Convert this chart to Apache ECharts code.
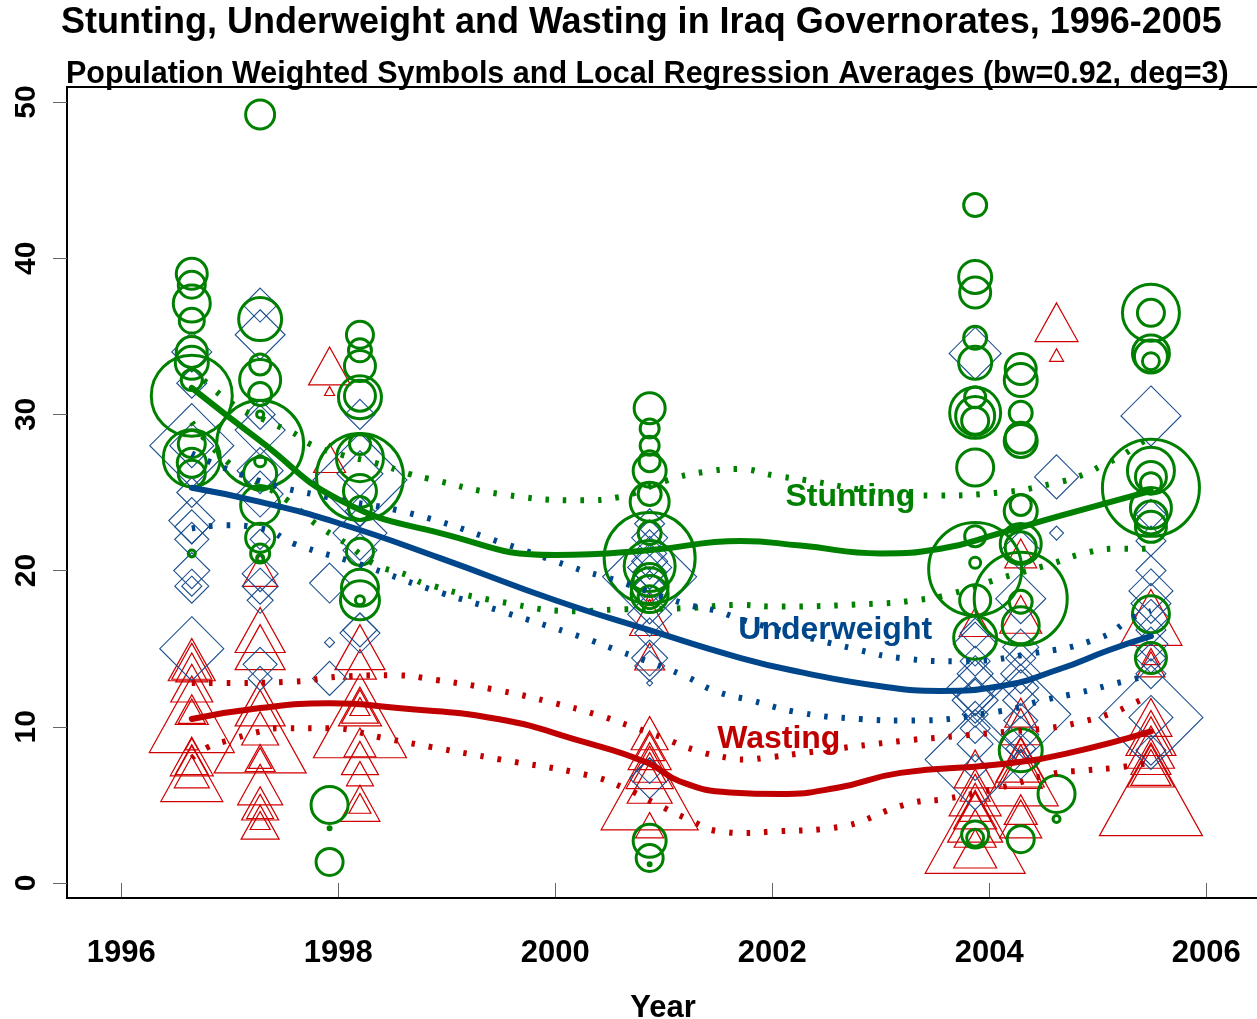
<!DOCTYPE html>
<html>
<head>
<meta charset="utf-8">
<title>Stunting, Underweight and Wasting in Iraq Governorates, 1996-2005</title>
<script src="https://cdn.jsdelivr.net/npm/echarts@6/dist/echarts.min.js"></script>
<style>
    html, body { margin: 0; padding: 0; background: #fff; }
    #chart { width: 1257px; height: 1019px; }
</style>
</head>
<body>
<div id="chart"></div>
<script>
// survey dates (decimal year)
var A = 1996.65, B = 1997.28, C = 1997.92, D = 1998.2, E = 2000.87,
    F = 2003.87, G = 2004.29, H = 2004.62, I = 2005.49;

// [year, percent, population weight]
var stunting = [
    [A, 39.0, 17], [A, 38.3, 15], [A, 37.1, 20], [A, 36.0, 14], [A, 34.0, 17], [A, 33.3, 18], [A, 32.2, 12],
    [A, 31.2, 42], [A, 28.1, 15], [A, 27.2, 30], [A, 26.9, 16], [A, 26.2, 15], [A, 21.1, 5],
    [B, 49.2, 16], [B, 36.1, 23], [B, 33.2, 12], [B, 32.2, 22], [B, 31.3, 13], [B, 30.0, 5], [B, 28.1, 45],
    [B, 27.0, 7], [B, 26.2, 18], [B, 24.2, 21], [B, 22.1, 16], [B, 21.1, 11], [B, 20.8, 5],
    [C, 5.0, 20], [C, 3.5, 3], [C, 1.35, 15],
    [D, 35.1, 15], [D, 34.1, 13], [D, 33.1, 17], [D, 31.1, 23], [D, 31.2, 17], [D, 28.1, 12], [D, 27.2, 25],
    [D, 26.0, 45], [D, 25.1, 18], [D, 24.0, 13], [D, 21.2, 15], [D, 18.9, 20], [D, 18.1, 21], [D, 18.1, 6],
    [E, 30.4, 17], [E, 29.1, 11], [E, 28.0, 11], [E, 27.0, 12], [E, 26.4, 18], [E, 24.9, 13], [E, 24.4, 21],
    [E, 22.4, 13], [E, 20.8, 47], [E, 20.3, 27], [E, 19.4, 18], [E, 19.0, 20], [E, 18.5, 20], [E, 18.3, 13],
    [E, 2.7, 18], [E, 1.6, 15], [E, 1.2, 3],
    [F, 43.4, 13], [F, 38.8, 18], [F, 37.8, 17], [F, 34.9, 13], [F, 33.3, 18], [F, 31.1, 12], [F, 30.1, 27],
    [F, 29.9, 21], [F, 29.6, 15], [F, 26.6, 20], [F, 22.2, 12], [F, 20.5, 7], [F, 20.1, 48], [F, 18.1, 17],
    [F, 15.7, 23], [F, 3.1, 15], [F, 2.9, 10],
    [G, 32.9, 17], [G, 32.2, 18], [G, 30.1, 13], [G, 28.5, 17], [G, 28.3, 18], [G, 24.2, 12], [G, 23.8, 18],
    [G, 21.7, 22], [G, 21.5, 17], [G, 18.2, 48], [G, 18.0, 13], [G, 16.5, 20], [G, 8.5, 23], [G, 2.8, 15],
    [H, 5.7, 20], [H, 4.1, 5],
    [I, 36.5, 30], [I, 36.5, 15], [I, 33.9, 20], [I, 33.7, 18], [I, 33.4, 10], [I, 26.4, 25], [I, 26.0, 17],
    [I, 25.6, 12], [I, 25.3, 50], [I, 24.0, 22], [I, 23.4, 18], [I, 22.8, 17], [I, 17.2, 20], [I, 14.4, 17]
];

var underweight = [
    [A, 34.0, 20], [A, 32.0, 15], [A, 28.0, 42], [A, 28.0, 22], [A, 25.0, 15], [A, 23.2, 23], [A, 22.8, 17],
    [A, 22.0, 17], [A, 20.0, 18], [A, 19.0, 17], [A, 19.0, 10], [A, 15.0, 32],
    [B, 37.0, 17], [B, 35.1, 25], [B, 30.0, 15], [B, 29.0, 25], [B, 26.4, 23], [B, 24.9, 23], [B, 22.0, 10],
    [B, 19.8, 18], [B, 19.0, 18], [B, 18.1, 13], [B, 14.0, 17], [B, 13.1, 12],
    [C, 19.2, 20], [C, 15.4, 5], [C, 13.1, 17],
    [D, 30.0, 15], [D, 26.2, 23], [D, 25.8, 47], [D, 23.8, 15], [D, 22.4, 27], [D, 21.3, 17], [D, 16.2, 17], [D, 16.0, 20],
    [E, 23.0, 15], [E, 22.1, 18], [E, 21.1, 17], [E, 20.6, 18], [E, 20.2, 22], [E, 19.9, 17], [E, 19.6, 47],
    [E, 18.9, 17], [E, 17.2, 22], [E, 16.0, 15], [E, 14.4, 18], [E, 13.9, 15], [E, 12.8, 3], [E, 7.2, 13], [E, 6.7, 20],
    [F, 33.9, 26], [F, 16.0, 15], [F, 15.3, 22], [F, 14.2, 15], [F, 13.4, 18], [F, 12.5, 28], [F, 11.9, 18],
    [F, 11.7, 23], [F, 10.8, 13], [F, 9.9, 15], [F, 8.9, 18], [F, 7.9, 50], [F, 7.4, 13],
    [G, 21.3, 20], [G, 18.2, 25], [G, 15.1, 18], [G, 14.4, 15], [G, 13.4, 20], [G, 12.5, 18], [G, 11.7, 18],
    [G, 10.8, 50], [G, 10.4, 17], [G, 9.5, 18], [G, 8.6, 15], [G, 7.6, 15],
    [H, 26.0, 22], [H, 22.4, 7],
    [I, 29.9, 30], [I, 23.6, 15], [I, 21.9, 15], [I, 20.0, 15], [I, 18.7, 22], [I, 17.9, 20], [I, 17.0, 18],
    [I, 16.2, 15], [I, 15.3, 17], [I, 14.4, 15], [I, 13.4, 15], [I, 10.6, 52], [I, 10.6, 22], [I, 8.5, 15]
];

var wasting = [
    [A, 14.3, 47], [A, 14.2, 40], [A, 13.8, 32], [A, 12.8, 42], [A, 11.1, 33], [A, 11.0, 27], [A, 10.8, 85],
    [A, 8.9, 13], [A, 8.1, 43], [A, 7.9, 33], [A, 7.1, 35], [A, 7.0, 62],
    [B, 20.0, 35], [B, 16.2, 50], [B, 15.1, 50], [B, 11.5, 50], [B, 9.7, 92], [B, 9.9, 37], [B, 8.0, 30],
    [B, 8.0, 23], [B, 6.3, 45], [B, 5.1, 37], [B, 4.9, 27], [B, 3.9, 38], [B, 4.0, 20],
    [C, 33.1, 42], [C, 31.5, 10], [C, 27.2, 32],
    [D, 15.1, 50], [D, 14.0, 33], [D, 10.7, 93], [D, 11.3, 43], [D, 11.3, 37], [D, 11.3, 20], [D, 9.0, 32],
    [D, 8.0, 37], [D, 7.0, 27], [D, 5.1, 40], [D, 5.1, 22],
    [E, 18.3, 7], [E, 17.0, 40], [E, 14.5, 30], [E, 9.6, 37], [E, 8.5, 43], [E, 8.7, 30], [E, 7.4, 47],
    [E, 7.4, 33], [E, 6.4, 45], [E, 6.2, 97], [E, 3.7, 28],
    [F, 16.7, 32], [F, 7.3, 42], [F, 5.8, 52], [F, 6.1, 30], [F, 4.7, 43], [F, 4.9, 33], [F, 4.2, 55],
    [F, 3.5, 42], [F, 3.5, 100], [F, 2.2, 43],
    [G, 21.1, 32], [G, 17.2, 42], [G, 10.9, 32], [G, 10.0, 40], [G, 7.9, 50], [G, 7.5, 47], [G, 7.3, 43],
    [G, 7.1, 75], [G, 4.7, 33], [G, 4.1, 42],
    [H, 35.9, 43], [H, 33.8, 14],
    [I, 17.0, 62], [I, 14.0, 28], [I, 14.5, 18], [I, 10.6, 42], [I, 9.6, 50], [I, 9.4, 43], [I, 8.7, 47],
    [I, 8.1, 40], [I, 7.5, 47], [I, 7.4, 40], [I, 6.0, 103]
];

// local regression fits and their bands
var stuntingFit = [[1996.65, 31.7], [1997.28, 28.3], [1998.02, 24.5], [1998.94, 22.4], [2000.0, 21.0],
    [2000.86, 21.3], [2001.71, 21.9], [2002.26, 21.6], [2003.0, 21.1], [2003.55, 21.4], [2004.1, 22.4],
    [2004.65, 23.5], [2005.49, 25.1]];
var stuntingHi = [[1996.65, 33.0], [1997.0, 30.8], [1997.4, 29.4], [1997.59, 28.8], [1997.74, 28.1],
    [1998.04, 27.4], [1998.34, 26.9], [1998.65, 26.2], [1998.82, 25.9], [1999.5, 24.9], [2000.26, 24.5],
    [2000.58, 24.7], [2001.04, 25.8], [2001.36, 26.3], [2001.69, 26.5], [2002.01, 26.1], [2002.3, 25.8],
    [2003.0, 25.0], [2003.44, 24.8], [2004.1, 25.0], [2004.6, 25.6], [2004.89, 26.2], [2005.03, 26.7],
    [2005.18, 27.2], [2005.32, 27.8], [2005.49, 28.6]];
var stuntingLo = [[1996.65, 29.5], [1996.99, 26.9], [1997.53, 24.5], [1997.79, 23.0], [1998.08, 21.7],
    [1998.34, 20.4], [1998.64, 19.7], [1998.78, 19.2], [1999.5, 18.0], [2000.23, 17.4], [2000.53, 17.5],
    [2001.2, 17.6], [2001.7, 17.8], [2002.0, 17.7], [2003.0, 17.9], [2003.32, 18.1], [2003.64, 18.5],
    [2004.1, 19.5], [2004.56, 20.4], [2004.87, 21.1], [2005.19, 21.4], [2005.49, 21.4]];

var underweightFit = [[1996.65, 25.3], [1997.28, 24.4], [1998.02, 23.0], [1998.94, 20.8], [2000.0, 18.1],
    [2000.86, 16.2], [2001.71, 14.4], [2002.26, 13.5], [2003.0, 12.6], [2003.55, 12.3], [2004.1, 12.6],
    [2004.65, 13.7], [2005.1, 14.9], [2005.49, 15.8]];
var underweightHi = [[1996.65, 27.5], [1997.25, 25.8], [1997.9, 24.7], [1998.7, 23.6], [1999.5, 21.8],
    [2000.25, 20.0], [2000.4, 19.7], [2000.55, 19.4], [2001.18, 17.9], [2001.5, 17.4], [2001.66, 17.0],
    [2001.9, 16.5], [2002.81, 14.9], [2003.18, 14.4], [2003.7, 14.2], [2004.4, 14.7], [2005.02, 15.7],
    [2005.33, 17.0], [2005.49, 17.4]];
var underweightLo = [[1996.65, 22.7], [1996.97, 22.9], [1997.29, 22.7], [1997.6, 21.7], [1998.2, 20.4],
    [1998.85, 18.8], [1999.5, 17.4], [2000.26, 15.7], [2000.57, 14.9], [2001.18, 13.3], [2001.47, 12.3],
    [2001.8, 11.7], [2002.26, 10.9], [2002.81, 10.5], [2003.24, 10.4], [2004.1, 11.0], [2004.5, 11.7],
    [2004.84, 12.2], [2005.18, 12.8], [2005.49, 13.3]];

var wastingFit = [[1996.65, 10.5], [1997.28, 11.2], [1997.92, 11.5], [1998.55, 11.2], [1999.47, 10.5],
    [2000.23, 9.1], [2000.85, 7.7], [2001.15, 6.5], [2001.61, 5.8], [2002.07, 5.7], [2002.6, 6.1],
    [2003.18, 7.05], [2004.1, 7.6], [2004.72, 8.3], [2005.49, 9.7]];
var wastingHi = [[1996.65, 12.8], [1997.0, 12.8], [1997.6, 12.9], [1998.0, 13.2], [1998.5, 13.3],
    [1998.9, 13.0], [1999.5, 12.3], [2000.0, 11.5], [2000.37, 10.8], [2000.67, 10.1], [2000.99, 9.3],
    [2001.29, 8.5], [2001.6, 8.0], [2001.75, 7.9], [2001.92, 8.0], [2002.26, 8.3], [2003.2, 9.1],
    [2003.7, 9.4], [2004.19, 9.7], [2004.53, 9.9], [2004.84, 10.3], [2005.14, 10.9], [2005.33, 11.5], [2005.49, 12.0]];
var wastingLo = [[1996.65, 8.0], [1996.8, 8.7], [1996.97, 9.1], [1997.28, 9.7], [1997.44, 9.9],
    [1997.93, 9.9], [1998.4, 9.3], [1998.86, 8.7], [1999.5, 7.9], [2000.3, 6.9], [2000.63, 6.1],
    [2000.92, 5.1], [2001.22, 4.1], [2001.52, 3.3], [2001.76, 3.2], [2002.01, 3.3], [2002.53, 3.5],
    [2003.27, 5.1], [2003.61, 5.4], [2004.1, 6.1], [2004.59, 7.0], [2004.87, 7.2], [2005.19, 7.4], [2005.49, 7.7]];

var xTicks = [1996, 1998, 2000, 2002, 2004, 2006];
var yTicks = [0, 10, 20, 30, 40, 50];

var GREEN = '#008000', BLUE = '#00468B', RED = '#C00000';
var FONT = '"Liberation Sans", Arial, sans-serif';

var chart = echarts.init(document.getElementById('chart'));

function fitLine(data, color) {
    return {
        type: 'line', data: data, smooth: true, showSymbol: false, silent: true,
        lineStyle: { color: color, width: 6, cap: 'round', opacity: 1 }, z: 5
    };
}
function bandLine(data, color) {
    return {
        type: 'line', data: data, smooth: true, showSymbol: false, silent: true,
        lineStyle: { color: color, width: 6, type: [3.5, 14], cap: 'butt', opacity: 1 }, z: 4
    };
}
function tag(text, x, y, color) {
    return {
        type: 'scatter', data: [[x, y]], symbolSize: 0, silent: true, z: 6,
        itemStyle: { opacity: 1 },
        label: {
            show: true, position: 'inside', formatter: text, color: color, opacity: 1,
            fontFamily: FONT, fontWeight: 'bold', fontSize: 32
        }
    };
}

var option = {
    animation: false,
    backgroundColor: '#fff',
    title: [{
        text: 'Stunting, Underweight and Wasting in Iraq Governorates, 1996-2005',
        left: 56, top: 0,
        textStyle: { fontFamily: FONT, fontWeight: 'bold', fontSize: 36, color: '#000' }
    }, {
        text: 'Population Weighted Symbols and Local Regression Averages (bw=0.92, deg=3)',
        left: 61, top: 54,
        textStyle: { fontFamily: FONT, fontWeight: 'bold', fontSize: 30.5, color: '#000' }
    }],
    grid: {
        left: 67, right: -2, top: 87, bottom: 121,
        containLabel: false, outerBoundsMode: 'none',
        show: true, borderColor: '#000', borderWidth: 2, backgroundColor: 'transparent'
    },
    xAxis: {
        type: 'value', min: 1995.5, max: 2006.486,
        name: 'Year', nameLocation: 'middle', nameGap: 95,
        nameTextStyle: { fontFamily: FONT, fontWeight: 'bold', fontSize: 31, color: '#000' },
        axisLine: { show: false },
        splitLine: { show: false },
        axisTick: { show: true, length: 14, customValues: xTicks, lineStyle: { color: '#666', width: 1 } },
        axisLabel: {
            customValues: xTicks, margin: 40, color: '#000',
            formatter: function (v) { return String(v); },
            fontFamily: FONT, fontWeight: 'bold', fontSize: 31
        }
    },
    yAxis: {
        type: 'value', min: -0.96, max: 50.96,
        axisLine: { show: false },
        splitLine: { show: false },
        axisTick: { show: true, length: 14, customValues: yTicks, lineStyle: { color: '#666', width: 1 } },
        axisLabel: {
            customValues: yTicks, rotate: 90, margin: 25, color: '#000',
            formatter: function (v) { return String(v); },
            fontFamily: FONT, fontWeight: 'bold', fontSize: 30
        }
    },
    series: [
        {
            name: 'Wasting', type: 'scatter', data: wasting, symbol: 'triangle',
            symbolSize: function (v) { return [v[2], v[2] * 0.9]; },
            itemStyle: { color: 'transparent', borderColor: '#D00000', borderWidth: 1.2, opacity: 1 }, z: 2
        },
        {
            name: 'Underweight', type: 'scatter', data: underweight, symbol: 'diamond',
            symbolSize: function (v) { return 2 * v[2]; },
            itemStyle: { color: 'transparent', borderColor: '#1B4F8F', borderWidth: 1.1, opacity: 1 }, z: 2
        },
        {
            name: 'Stunting', type: 'scatter', data: stunting, symbol: 'circle',
            symbolSize: function (v) { return Math.max(2 * v[2] - 3, 3); },
            itemStyle: { color: 'transparent', borderColor: GREEN, borderWidth: 3, opacity: 1 }, z: 3
        },
        bandLine(stuntingHi, GREEN), bandLine(stuntingLo, GREEN),
        bandLine(underweightHi, BLUE), bandLine(underweightLo, BLUE),
        bandLine(wastingHi, RED), bandLine(wastingLo, RED),
        fitLine(stuntingFit, GREEN), fitLine(underweightFit, BLUE), fitLine(wastingFit, RED),
        tag('Stunting', 2002.72, 24.7, GREEN),
        tag('Underweight', 2002.58, 16.2, BLUE),
        tag('Wasting', 2002.06, 9.2, RED)
    ]
};

chart.setOption(option);
</script>
</body>
</html>
